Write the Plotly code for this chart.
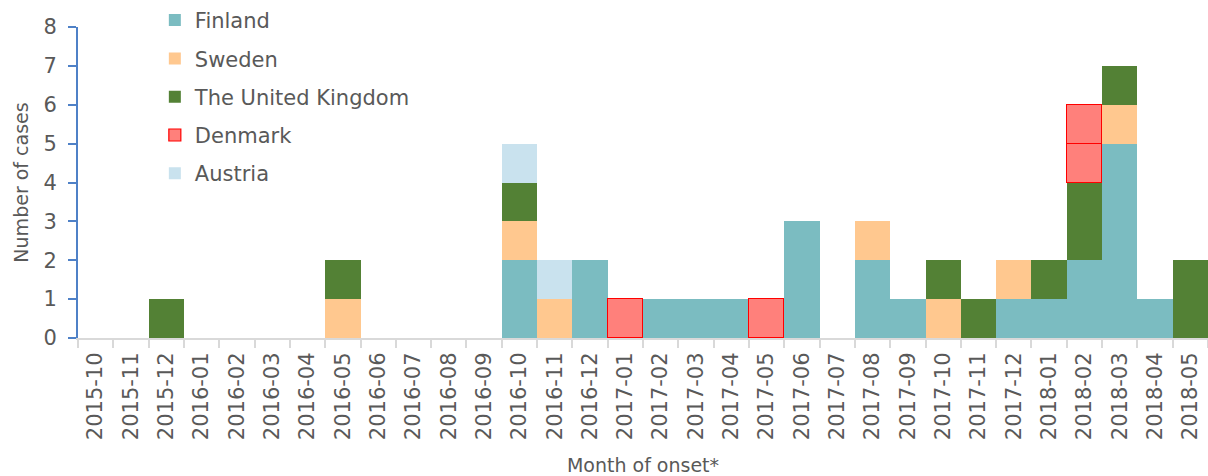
import plotly.graph_objects as go

months = ["2015-10","2015-11","2015-12","2016-01","2016-02","2016-03","2016-04","2016-05",
          "2016-06","2016-07","2016-08","2016-09","2016-10","2016-11","2016-12","2017-01",
          "2017-02","2017-03","2017-04","2017-05","2017-06","2017-07","2017-08","2017-09",
          "2017-10","2017-11","2017-12","2018-01","2018-02","2018-03","2018-04","2018-05"]

finland = [0,0,0,0,0,0,0,0, 0,0,0,0,2,0,2,0, 1,1,1,0,3,0,2,1, 0,0,1,1,2,5,1,0]
sweden  = [0,0,0,0,0,0,0,1, 0,0,0,0,1,1,0,0, 0,0,0,0,0,0,1,0, 1,0,1,0,0,1,0,0]
uk      = [0,0,1,0,0,0,0,1, 0,0,0,0,1,0,0,0, 0,0,0,0,0,0,0,0, 1,1,0,1,2,1,0,2]
denmark = [0,0,0,0,0,0,0,0, 0,0,0,0,0,0,0,1, 0,0,0,1,0,0,0,0, 0,0,0,0,2,0,0,0]
austria = [0,0,0,0,0,0,0,0, 0,0,0,0,1,1,0,0, 0,0,0,0,0,0,0,0, 0,0,0,0,0,0,0,0]

series = [
    ("Finland", finland, "#7BBCC1", "#1B6B7E"),
    ("Sweden", sweden, "#FFC88F", "#E07B1A"),
    ("The United Kingdom", uk, "#538135", "#375623"),
    ("Denmark", denmark, "#FF807B", "#FF0000"),
    ("Austria", austria, "#C9E2EE", "#4C9BB0"),
]


def nz(vals):
    return [v if v else None for v in vals]


fig = go.Figure()
for name, vals, fill, edge in series:
    if name == "Denmark":
        # draw each case as its own outlined box
        for k in range(max(vals)):
            layer = [1 if v > k else None for v in vals]
            fig.add_trace(go.Bar(
                x=months, y=layer, name=name, legendgroup=name,
                showlegend=(k == 0),
                marker=dict(color=fill, line=dict(color=edge, width=1.2)),
            ))
    else:
        fig.add_trace(go.Bar(
            x=months, y=nz(vals), name=name, legendgroup=name,
            marker=dict(color=fill, line=dict(color=edge, width=0)),
        ))

font_color = "#595959"
fig.update_layout(
    barmode="stack",
    bargap=0,
    width=1208, height=476,
    margin=dict(l=78, r=0, t=27, b=138, autoexpand=False),
    plot_bgcolor="white",
    paper_bgcolor="white",
    font=dict(family="DejaVu Sans", size=20, color=font_color),
    showlegend=True,
    legend=dict(
        x=0.068, y=1.087, xanchor="left", yanchor="top",
        bgcolor="rgba(0,0,0,0)",
        font=dict(size=21, color=font_color),
        traceorder="grouped",
        tracegroupgap=8,
        itemclick=False,
    ),
    xaxis=dict(
        type="category",
        tickangle=-90,
        showline=True, linecolor="#D9D9D9", linewidth=2,
        ticks="outside", ticklen=8, tickcolor="#D9D9D9", tickwidth=2,
        tickson="boundaries",
        ticklabelstandoff=4,
        showgrid=False,
        title=dict(text="Month of onset*", font=dict(size=19, color=font_color), standoff=24),
        tickfont=dict(size=21, color=font_color),
    ),
    yaxis=dict(
        range=[0, 8],
        dtick=1,
        showline=True, linecolor="#4F81C7", linewidth=2,
        ticks="outside", ticklen=8, tickcolor="#4F81C7", tickwidth=2,
        ticklabelstandoff=7,
        showgrid=False, zeroline=False,
        title=dict(text="Number of cases", font=dict(size=19, color=font_color), standoff=10),
        tickfont=dict(size=21, color=font_color),
    ),
)

fig.write_html("out.html", post_script="document.body.style.margin='0';",
               config={"displayModeBar": False})
